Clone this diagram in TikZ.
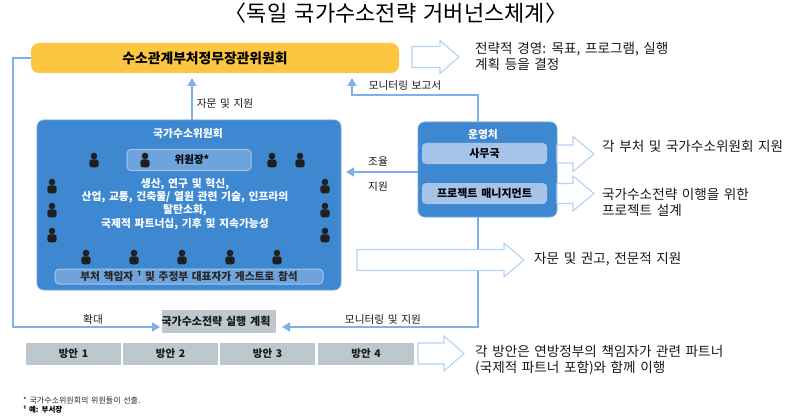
\documentclass[tikz,border=0pt]{standalone}
\usepackage{fontspec}
\setmainfont{Noto Sans CJK KR}[WordSpace=1.5]
\usetikzlibrary{arrows.meta}
\definecolor{linkblue}{HTML}{7FB0E8}
\definecolor{arrowedge}{HTML}{B5D2F2}
\definecolor{panelblue}{HTML}{3D88D1}
\definecolor{amber}{HTML}{FDC640}
\definecolor{slategrey}{HTML}{BCC8CE}
\definecolor{softblue}{HTML}{A6C4EA}
\definecolor{chairblue}{HTML}{6FA3DC}
\tikzset{
  x=1pt,y=-1pt,
  link/.style={draw=linkblue,line width=1.5pt},
  tipped/.style={link,-{Triangle[length=8pt,width=9pt,fill=linkblue]}},
  label/.style={font=\fontsize{10.7}{12}\selectfont,inner sep=0pt,text=black!90},
  side/.style={font=\fontsize{13.6}{16}\selectfont,inner sep=0pt,anchor=west,text=black!90},
  panel/.style={fill=panelblue,draw=panelblue!75!white,line width=.8pt,rounded corners=7pt,inner sep=0pt},
  whitebold/.style={font=\bfseries\fontsize{10.8}{13}\selectfont,text=white,inner sep=0pt},
  softbar/.style={fill=softblue,rounded corners=4pt,inner sep=0pt,font=\bfseries\fontsize{11}{12}\selectfont,text=black},
  greybox/.style={fill=slategrey,inner sep=0pt,font=\bfseries\fontsize{10.5}{12}\selectfont,text=black!90},
  blockarrow/.style={draw=arrowedge,fill=white,line width=1.1pt,line join=miter},
  person/.pic={
    \fill[black!88] (0,-4) circle (3.3);
    \fill[black!88,rounded corners=2.4pt] (-4.6,7.3) -- (-4.6,-0.6) -- (4.6,-0.6) -- (4.6,7.3) -- cycle;
  }
}
\newcommand{\blockarrow}[6]{% x0, xbase, xtip, ycentre, shaft half, head half
  \draw[blockarrow] (#1,#4-#5) -- (#2,#4-#5) -- (#2,#4-#6) -- (#3,#4) -- (#2,#4+#6) -- (#2,#4+#5) -- (#1,#4+#5) -- cycle;}
\begin{document}
\begin{tikzpicture}
\useasboundingbox (0,0) rectangle (787,417);

% title
\node[inner sep=0pt,font=\fontsize{22}{26}\selectfont] (title) at (396,13) {〈독일 국가수소전략 거버넌스체계〉};

% main boxes
\node[fill=amber,rounded corners=8pt,minimum width=368pt,minimum height=30pt,inner sep=0pt,font=\bfseries\fontsize{13.8}{16}\selectfont] (council) at (215,58) {\hspace*{-20pt}수소관계부처정무장관위원회};
\node[panel,minimum width=304pt,minimum height=170pt] (nwr) at (189,205) {};
\node[panel,minimum width=139pt,minimum height=95pt] (ops) at (487.5,169.5) {};
\node[greybox,minimum width=114pt,minimum height=23pt,font=\bfseries\fontsize{11}{12}\selectfont] (plan) at (219,321.5) {\hspace*{-6pt}국가수소전략 실행 계획};

% anchor points of the connectors
\coordinate (nwrTop) at (192,120);
\coordinate (councilBelow) at (192,78);
\coordinate (councilBelowR) at (352,78);
\coordinate (opsTop) at (478,122);
\coordinate (opsBot) at (478,217);
\coordinate (leftRail) at (13,327);
\coordinate (planL) at (160,327);
\coordinate (planR) at (282,327);
\coordinate (opsL) at (418,172);
\coordinate (nwrR) at (346,172);
\coordinate (councilL) at (31,58);

% connectors
\draw[tipped] (nwrTop) -- (councilBelow);
\draw[tipped] (opsTop) |- (352,95) -- (councilBelowR);
\draw[tipped] (opsL) -- (nwrR);
\draw[tipped] (opsBot) |- (planR);
\draw[tipped] (councilL) -| (leftRail) -- (planL);

% connector labels
\node[label] (l1) at (225,103) {자문 및 지원};
\node[label] (l2) at (405,85) {모니터링 보고서};
\node[label] (l3) at (378,161) {조율};
\node[label] (l4) at (378,186) {지원};
\node[label] (l5) at (93,319) {확대};
\node[label] (l6) at (383,319) {모니터링 및 지원};

% national hydrogen council contents
\node[whitebold] (nwrT) at (188,133) {국가수소위원회};
\node[fill=chairblue,draw=softblue,line width=1pt,rounded corners=4pt,minimum width=124pt,minimum height=21pt,inner sep=0pt,font=\bfseries\fontsize{10.5}{11}\selectfont] (chair) at (189,160) {\hspace*{6pt}위원장*};
\node[whitebold,align=center,font=\bfseries\fontsize{10.8}{13.1}\selectfont] (topics) at (185,204) {생산, 연구 및 혁신,\\산업, 교통, 건축물/ 열원 관련 기술, 인프라의\\탈탄소화,\\국제적 파트너십, 기후 및 지속가능성};
\node[fill=chairblue,draw=softblue,line width=1pt,rounded corners=4pt,minimum width=268pt,minimum height=15pt,inner sep=0pt,font=\bfseries\fontsize{10.7}{11}\selectfont,text=black!85] (guests) at (189,276.5) {부처 책임자 ¹ 및 주정부 대표자가 게스트로 참석};
\foreach \px/\py in {94/160,145/160,272/160,300/160,52/186,52/210,52/235,325/186,325/210,325/235,86/257,134/257,182/257,230/257,277/257}
  \pic at (\px,\py) {person};

% operations office contents
\node[whitebold] (opsT) at (483,134) {운영처};
\node[softbar,minimum width=125pt,minimum height=21pt] (sec) at (484.5,153.5) {사무국};
\node[softbar,minimum width=125pt,minimum height=21pt] (pm) at (484.5,193.5) {프로젝트 매니지먼트};

% measures
\node[greybox,minimum width=95pt,minimum height=22pt] (m1) at (73.5,353.5) {방안 1};
\node[greybox,minimum width=95pt,minimum height=22pt] (m2) at (170.5,353.5) {방안 2};
\node[greybox,minimum width=95pt,minimum height=22pt] (m3) at (267.5,353.5) {방안 3};
\node[greybox,minimum width=96pt,minimum height=22pt] (m4) at (366,353.5) {방안 4};

% block arrows
\blockarrow{412}{440}{459}{57}{10.5}{16.5}
\blockarrow{557}{573}{594}{154}{9}{17.5}
\blockarrow{557}{573}{594}{193.5}{10}{17.5}
\blockarrow{357}{504}{524}{260}{10.5}{17}
\blockarrow{418}{444}{464}{353.5}{10.5}{17.5}

% side texts
\node[side,align=left] (s1) at (475,56) {전략적 경영: 목표, 프로그램, 실행\\계획 등을 결정};
\node[side] (s2) at (602,146) {각 부처 및 국가수소위원회 지원};
\node[side,align=left] (s3) at (602,202) {국가수소전략 이행을 위한\\프로젝트 설계};
\node[side] (s4) at (534,259) {자문 및 권고, 전문적 지원};
\node[side,align=left] (s5) at (475,360) {각 방안은 연방정부의 책임자가 관련 파트너\\(국제적 파트너 포함)와 함께 이행};

% footnotes
\node[inner sep=0pt,anchor=west,font=\fontsize{8}{9}\selectfont,text=black!85] (f1) at (23,400) {* 국가수소위원회의 위원들이 선출.};
\node[inner sep=0pt,anchor=west,font=\bfseries\fontsize{7.5}{9}\selectfont] (f2) at (23,410) {¹ 예: 부서장};
\end{tikzpicture}
\end{document}
